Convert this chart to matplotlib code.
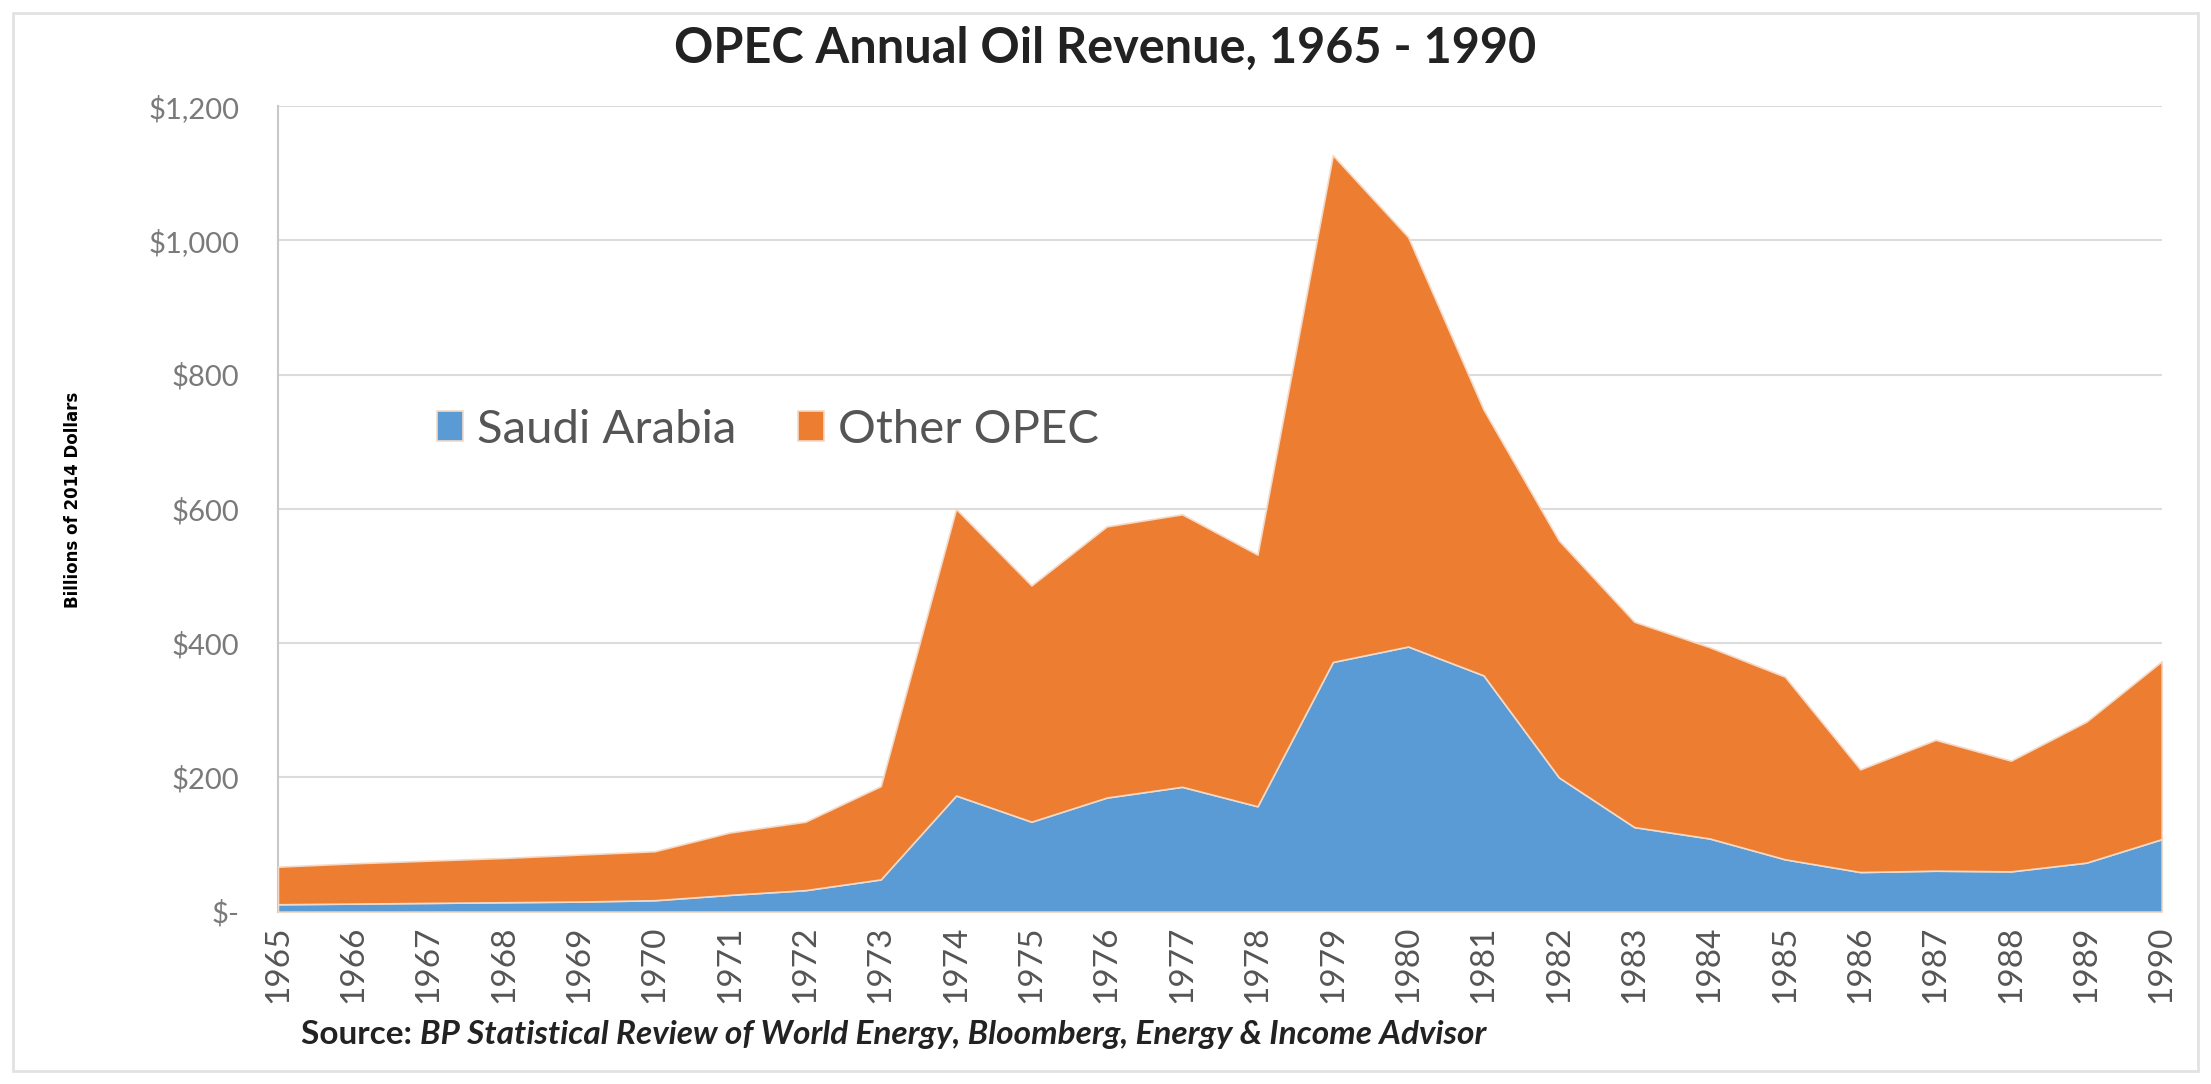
import matplotlib.pyplot as plt
from matplotlib.patches import Rectangle

# Data (billions of 2014 dollars)
years = list(range(1965, 1991))
saudi_arabia = [11, 12, 13, 14, 15, 17, 25, 32, 48, 173, 134, 170, 186, 157,
                372, 395, 352, 200, 126, 109, 78, 59, 61, 60, 73, 108]
other_opec = [56, 60, 63, 66, 70, 73, 93, 102, 139, 427, 352, 404, 406, 375,
              755, 610, 396, 353, 306, 285, 272, 153, 195, 165, 210, 265]
y_ticks = [0, 200, 400, 600, 800, 1000, 1200]
y_tick_labels = ['$-', '$200', '$400', '$600', '$800', '$1,000', '$1,200']
series_names = ['Saudi Arabia', 'Other OPEC']

plt.rcParams['font.family'] = ['Lato', 'DejaVu Sans']

fig = plt.figure(figsize=(22.11, 10.84), dpi=100)
ax = fig.add_axes([0.1257, 0.159, 0.852, 0.743])

# stacked area
ax.stackplot(years, saudi_arabia, other_opec,
             colors=['#5B9BD5', '#ED7D31'], labels=series_names,
             edgecolor='#f3d9c6', linewidth=1.2, zorder=3)

ax.set_xlim(1965, 1990)
ax.set_ylim(0, 1200)
ax.set_yticks(y_ticks)
ax.set_yticklabels(y_tick_labels, color='#7a7a7a', fontsize=21)
ax.set_xticks(years)
ax.set_xticklabels([str(y) for y in years], rotation=90, color='#555555',
                   fontsize=24)
ax.tick_params(axis='y', length=0, pad=28)
ax.tick_params(axis='x', length=0, pad=10)

ax.grid(axis='y', color='#dcdcdc', linewidth=1.5, zorder=0)
ax.set_axisbelow(True)
for side in ['top', 'right', 'bottom']:
    ax.spines[side].set_visible(False)
ax.spines['left'].set_color('#c8c8c8')
ax.spines['left'].set_linewidth(1.5)

ax.legend(loc='center left', bbox_to_anchor=(0.062, 0.598), ncol=2,
          frameon=False, fontsize=34, labelcolor='#555555',
          handlelength=0.55, handleheight=0.6, handletextpad=0.3,
          columnspacing=1.3)

fig.text(0.033, 0.539, 'Billions of 2014 Dollars', rotation=90,
         fontsize=12, fontweight='bold', ha='center', va='center',
         family=['Liberation Sans Narrow', 'DejaVu Sans'])

fig.text(0.5, 0.955, 'OPEC Annual Oil Revenue, 1965 - 1990',
         fontsize=35, fontweight='bold', ha='center', va='center',
         color='#222222')

src = fig.text(0.136, 0.046, 'Source: ', fontsize=24, fontweight='bold',
               va='center', color='#222222')
fig.canvas.draw()
bb = src.get_window_extent().transformed(fig.transFigure.inverted())
fig.text(bb.x1, 0.046,
         'BP Statistical Review of World Energy, Bloomberg, Energy & Income Advisor',
         fontsize=24, fontweight='bold', style='italic', va='center',
         color='#222222')

# light frame around the chart
fig.patches.append(Rectangle((0.006, 0.012), 0.988, 0.976,
                             transform=fig.transFigure, fill=False,
                             edgecolor='#e2e2e2', linewidth=2))

plt.savefig('out.png', dpi=100)
